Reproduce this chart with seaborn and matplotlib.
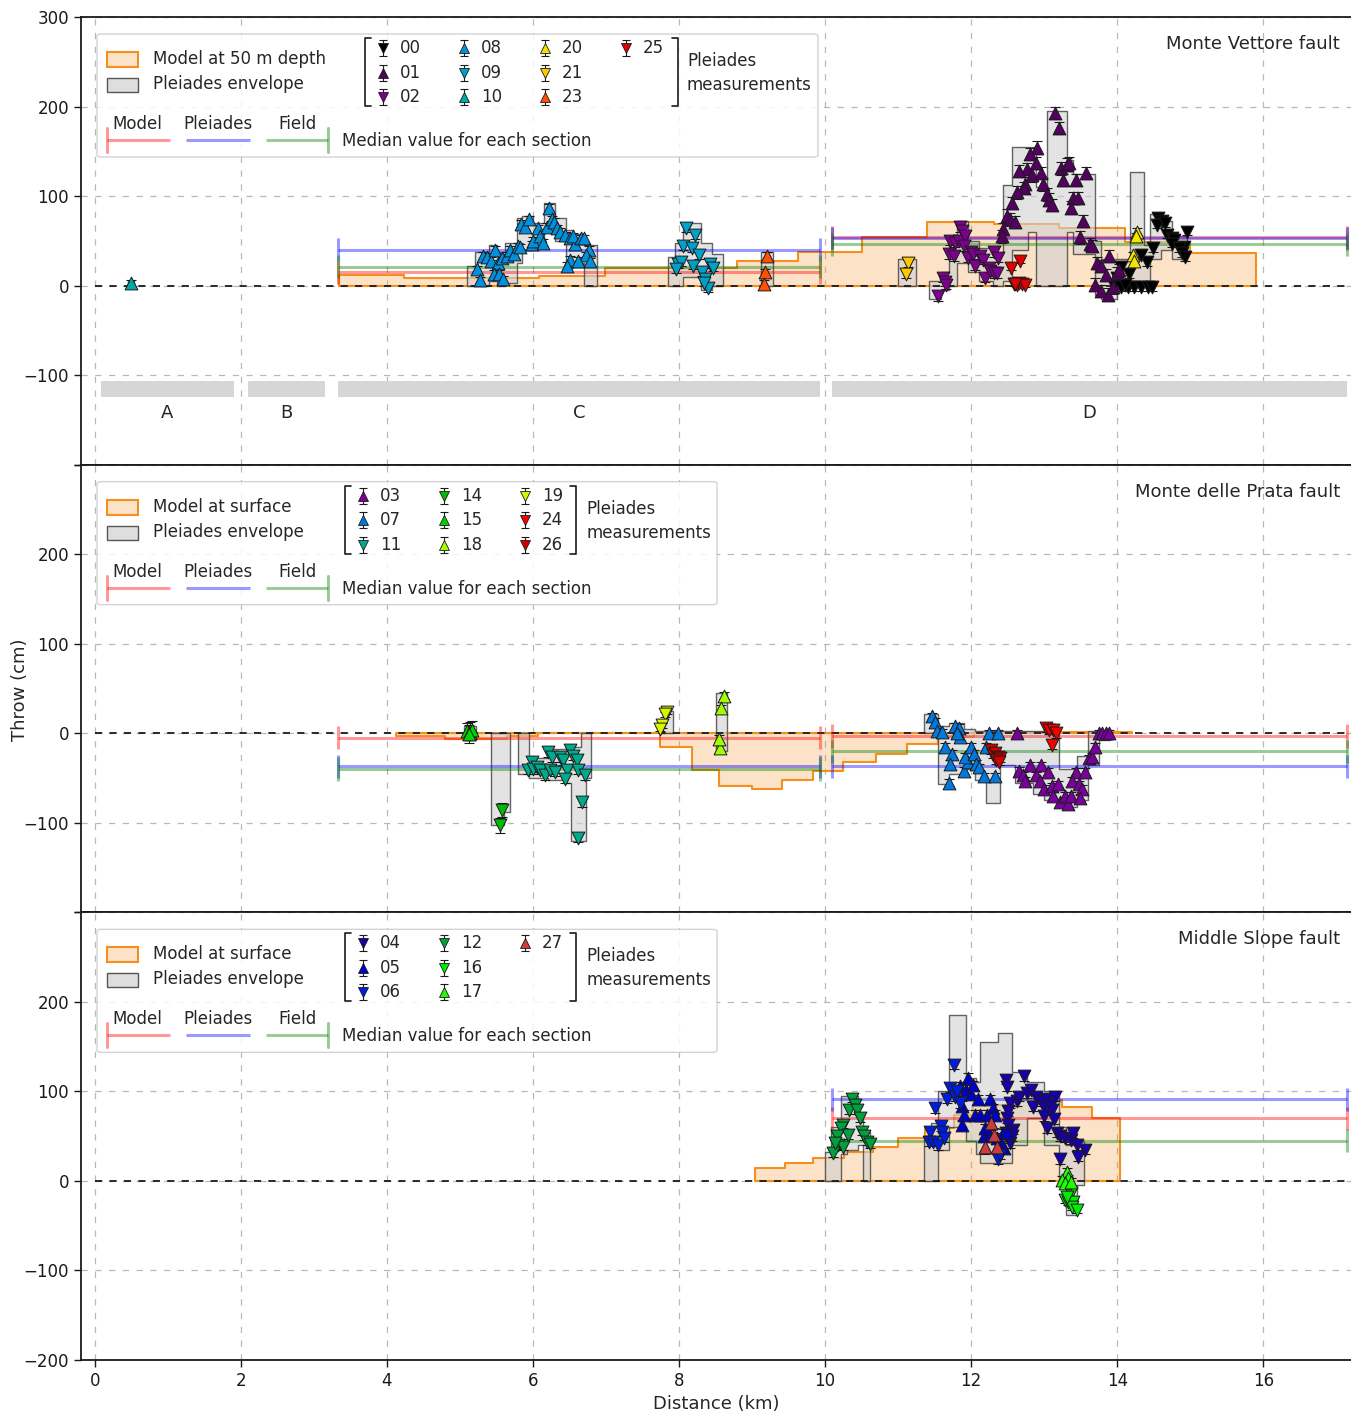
import matplotlib
matplotlib.use("Agg")
import matplotlib.pyplot as plt
from matplotlib.patches import FancyBboxPatch, Rectangle
import seaborn as sns

sns.set_theme(style="ticks")
plt.rcParams["font.family"] = ["DejaVu Sans"]

# ---------------- Along-strike sections ----------------
section_names = ["A", "B", "C", "D"]
section_start = [0.08, 2.10, 3.33, 10.10]
section_end = [1.90, 3.15, 9.93, 17.14]

# ---------------- Monte Vettore fault: Pleiades profiles ----------------
mv00_x = [14.56, 14.61, 14.54, 14.65, 14.68, 14.75, 14.78, 14.75, 14.95, 14.91, 14.84, 14.88, 14.93, 14.49,
          14.40, 14.33, 14.16, 14.05, 14.00, 13.96, 14.05, 14.14, 14.23, 14.33, 14.42, 14.47, 14.10]
mv00_y = [75, 72, 68, 70, 57, 53, 51, 47, 60, 43, 42, 36, 32, 42, 26, 34, 13, 21, 8, 0, -2, -2, -2, -2, -2, -2, 1]
mv01_x = [13.15, 13.20, 12.90, 12.80, 12.88, 12.76, 12.66, 12.83, 12.95, 12.98, 12.74, 12.72, 12.63, 12.56, 13.04,
          13.07, 13.11, 12.49, 12.53, 12.60, 12.44, 12.42, 13.23, 13.31, 13.34, 13.26, 13.43, 13.57, 13.39, 13.46,
          13.37, 13.53, 13.49, 13.63, 13.65, 13.72, 13.78, 13.89, 13.84, 13.70, 13.77, 13.87, 13.94, 13.99, 14.03]
mv01_y = [193, 176, 154, 147, 137, 130, 128, 123, 126, 113, 114, 109, 104, 92, 102, 96, 90, 78, 74, 71, 63, 55,
          131, 135, 137, 118, 118, 126, 98, 98, 87, 72, 54, 46, 44, 25, 22, 33, 12, 1, -6, -10, -2, 14, 17]
mv02_x = [11.55, 11.61, 11.64, 11.66, 11.85, 11.87, 11.71, 11.78, 11.83, 11.92, 11.69, 11.76, 11.90, 11.99,
          11.96, 12.03, 12.05, 12.12, 12.16, 12.19, 12.24, 12.26, 12.31, 12.35, 12.31, 12.37]
mv02_y = [-12, 9, 4, 1, 65, 61, 50, 48, 50, 55, 35, 33, 44, 38, 31, 35, 22, 33, 29, 9, 20, 16, 14, 14, 37, 31]
mv08_x = [5.23, 5.27, 5.32, 5.37, 5.43, 5.48, 5.52, 5.46, 5.54, 5.59, 5.57, 5.64, 5.68, 5.74, 5.80, 5.82, 5.84,
          5.89, 5.94, 5.98, 6.00, 6.07, 6.10, 6.14, 6.19, 6.22, 6.26, 6.29, 6.33, 6.37, 6.44, 6.51, 6.58, 6.55,
          6.65, 6.70, 6.76, 6.73, 6.78, 6.51, 6.47, 6.62]
mv08_y = [18, 6, 33, 32, 28, 40, 25, 13, 13, 7, 31, 33, 40, 35, 44, 43, 69, 66, 74, 46, 50, 64, 55, 48, 66, 87,
          74, 71, 64, 60, 56, 53, 46, 55, 53, 53, 40, 34, 27, 29, 22, 28]
mv09_x = [8.10, 8.22, 8.05, 8.17, 8.27, 7.98, 8.03, 7.96, 8.19, 8.32, 8.42, 8.46, 8.36, 8.39, 8.34]
mv09_y = [64, 56, 44, 42, 34, 24, 26, 18, 22, 15, 24, 20, 7, -3, 3]
mv10_x = [0.50]
mv10_y = [3]
mv20_x = [14.27, 14.26, 14.21, 14.23]
mv20_y = [60, 55, 34, 28]
mv21_x = [11.13, 11.11]
mv21_y = [25, 13]
mv23_x = [9.20, 9.18, 9.16]
mv23_y = [33, 15, 2]
mv25_x = [12.55, 12.67, 12.58, 12.62, 12.66, 12.70, 12.74, 12.60]
mv25_y = [20, 28, 2, 1, 3, 2, 1, 2]

# Pleiades envelope (segment start, end, lower, upper) and model at 50 m depth
mv_env_start = [0.46, 5.10, 5.20, 5.40, 5.50, 5.62, 5.78, 5.85, 6.00, 6.15, 6.30, 6.45, 6.55, 6.70,
                7.85, 7.95, 8.05, 8.30, 8.45, 9.12, 11.00,
                11.42, 11.58, 11.70, 11.80, 11.95, 12.10, 12.30, 12.44, 12.56, 12.78, 12.88, 13.04, 13.31,
                13.40, 13.70, 13.78, 14.00, 14.17, 14.37, 14.45, 14.60, 14.75]
mv_env_end = [0.54, 5.20, 5.40, 5.50, 5.62, 5.78, 5.85, 6.00, 6.15, 6.30, 6.45, 6.55, 6.70, 6.88,
              7.95, 8.05, 8.30, 8.45, 8.60, 9.28, 11.25,
              11.58, 11.70, 11.80, 11.95, 12.10, 12.30, 12.44, 12.56, 12.78, 12.88, 13.04, 13.31, 13.40,
              13.70, 13.78, 14.00, 14.17, 14.37, 14.45, 14.60, 14.75, 14.95]
mv_env_lo = [0, 0, 0, 5, 0, 3, 25, 40, 42, 60, 50, 20, 25, 0,
             0, 0, 10, -5, 0, 0, 0,
             -15, -5, 0, 25, 15, 5, 0, 5, 40, 60, 0, 0, 60, 35, -10, -15, -3, 0, 0, 30, 40, 30]
mv_env_hi = [5, 22, 38, 45, 38, 48, 75, 78, 70, 92, 75, 62, 58, 45,
             32, 48, 70, 48, 35, 38, 30,
             5, 15, 52, 72, 50, 42, 35, 112, 155, 155, 110, 195, 140, 125, 50, 30, 30, 127, 45, 80, 72, 55]
mv_model_edges = [3.34, 4.23, 6.08, 6.99, 8.79, 9.63, 10.50, 11.40, 12.31, 13.20, 14.10, 15.00, 15.90]
mv_model_vals = [12, 8, 11, 20, 27, 37, 54, 71, 69, 64, 49, 36]
mv_med_model = [None, None, 15, 54]
mv_med_pleiades = [None, None, 40, 53]
mv_med_field = [None, None, 21, 46]

# ---------------- Monte delle Prata fault ----------------
mp03_x = [12.62, 12.66, 12.71, 12.73, 12.80, 12.89, 12.94, 12.99, 12.96, 13.05, 13.10, 13.12, 13.19, 13.21,
          13.29, 13.33, 13.36, 13.43, 13.38, 13.47, 13.52, 13.49, 13.56, 13.61, 13.66, 13.70, 13.75, 13.79,
          13.84, 13.89]
mp03_y = [0, -42, -47, -53, -36, -47, -53, -62, -36, -43, -59, -70, -57, -77, -70, -79, -70, -43, -53, -57,
          -62, -72, -43, -28, -26, -15, 0, 0, 0, 0]
mp07_x = [11.46, 11.50, 11.53, 11.60, 11.64, 11.74, 11.71, 11.69, 11.78, 11.83, 11.85, 11.81, 11.90, 11.95,
          11.92, 11.99, 12.04, 12.06, 12.11, 12.18, 12.32, 12.20, 12.25, 12.36]
mp07_y = [19, 13, 2, 1, -15, -23, -34, -55, 8, 6, -4, 0, -42, -32, -26, -15, -23, -34, -38, -48, -48, -15, 0, 0]
mp11_x = [5.98, 5.93, 6.00, 6.05, 6.10, 6.16, 6.21, 6.26, 6.23, 6.30, 6.37, 6.41, 6.46, 6.44, 6.51, 6.55,
          6.60, 6.62, 6.71, 6.67, 6.62]
mp11_y = [-32, -41, -40, -38, -41, -47, -21, -27, -41, -43, -27, -30, -41, -51, -19, -25, -30, -41, -47, -77, -117]
mp14_x = [5.57, 5.55]
mp14_y = [-86, -103]
mp15_x = [5.09, 5.14, 5.17, 5.12]
mp15_y = [2, 3, 4, -1]
mp18_x = [8.61, 8.58, 8.56, 8.54]
mp18_y = [42, 28, -17, -6]
mp19_x = [7.83, 7.81, 7.76, 7.74]
mp19_y = [24, 21, 9, 5]
mp24_x = [13.03, 13.07, 13.12, 13.16, 13.10]
mp24_y = [6, 4, 4, 0, -13]
mp26_x = [12.27, 12.30, 12.33, 12.36, 12.40, 12.34, 12.38]
mp26_y = [-19, -24, -22, -26, -28, -30, -32]

mp_env_start = [5.05, 5.42, 5.60, 5.80, 5.95, 6.20, 6.45, 6.52, 6.66, 6.72, 7.72, 7.80, 8.50,
                11.35, 11.55, 11.70, 11.90, 12.05, 12.20, 12.40, 12.60, 12.85, 13.00, 13.20, 13.45, 13.60, 13.75]
mp_env_end = [5.22, 5.60, 5.68, 5.95, 6.20, 6.45, 6.52, 6.66, 6.72, 6.80, 7.80, 7.92, 8.65,
              11.55, 11.70, 11.90, 12.05, 12.20, 12.40, 12.60, 12.85, 13.00, 13.20, 13.45, 13.60, 13.75, 13.90]
mp_env_lo = [-8, -103, -88, -45, -50, -52, -55, -120, -120, -50, 0, 0, -20,
             0, -57, -45, -40, -52, -78, -35, -55, -68, -75, -82, -75, -35, -8]
mp_env_hi = [8, 0, 0, 0, -28, -18, -15, -15, 0, 0, 10, 25, 45,
             22, 8, 12, 5, 2, 2, 2, 2, 2, 6, -40, -25, 2, 2]
mp_model_edges = [4.13, 4.79, 5.64, 6.07, 7.74, 8.17, 8.55, 9.00, 9.41, 9.84, 10.25, 10.69, 11.12, 11.55,
                  12.04, 14.20]
mp_model_vals = [-3.4, -6.7, -2.6, 0.5, -15, -41, -59, -62, -52, -42, -32, -23, -12.5, -4, 1]
mp_med_model = [None, None, -5, -3]
mp_med_pleiades = [None, None, -37, -37]
mp_med_field = [None, None, -40, -20]

# ---------------- Middle Slope fault ----------------
ms04_x = [12.47, 12.49, 12.72, 12.62, 12.66, 12.53, 12.51, 12.49, 12.51, 12.57, 12.53, 12.47, 12.56, 12.76,
          12.82, 12.88, 12.85, 12.95, 12.99, 13.04, 13.08, 13.15, 13.10, 12.99, 13.13, 13.04, 13.17, 13.22,
          13.29, 13.36, 13.40, 13.45, 13.56, 13.22, 13.46]
ms04_y = [113, 105, 117, 89, 94, 87, 78, 70, 63, 57, 42, 53, 50, 98, 102, 94, 83, 89, 83, 91, 85, 94, 79, 72,
          69, 59, 54, 50, 48, 46, 53, 40, 35, 24, 27]
ms05_x = [11.95, 11.84, 11.93, 11.99, 12.03, 12.09, 11.87, 11.90, 11.87, 12.05, 12.12, 12.21, 12.26, 12.30,
          12.33, 12.17, 12.24, 12.19, 12.35, 12.42, 12.43, 12.49, 12.45]
ms05_y = [115, 106, 102, 97, 107, 91, 84, 74, 63, 74, 74, 74, 91, 81, 74, 50, 53, 59, 48, 40, 53, 55, 37]
ms06_x = [11.76, 11.51, 11.44, 11.42, 11.47, 11.54, 11.58, 11.60, 11.63, 11.67, 11.71, 11.78, 11.81, 11.85,
          12.37, 12.40]
ms06_y = [130, 81, 55, 44, 44, 40, 61, 55, 48, 92, 104, 94, 100, 87, 24, 29]
ms12_x = [10.37, 10.41, 10.32, 10.43, 10.47, 10.24, 10.21, 10.31, 10.16, 10.18, 10.25, 10.11, 10.50, 10.53,
          10.57, 10.61, 10.14]
ms12_y = [92, 85, 79, 79, 70, 63, 59, 51, 50, 40, 38, 31, 55, 50, 44, 41, 42]
ms16_x = [13.36, 13.29, 13.33, 13.40, 13.38, 13.45, 13.31]
ms16_y = [-14, -21, -23, -23, -29, -32, -18]
ms17_x = [13.31, 13.33, 13.24, 13.29, 13.36]
ms17_y = [10, 3, 1, -2, -1]
ms27_x = [12.27, 12.31, 12.19, 12.35]
ms27_y = [65, 51, 38, 38]

ms_env_start = [10.00, 10.08, 10.22, 10.30, 10.45, 10.52,
                11.35, 11.45, 11.55, 11.70, 11.93, 12.06, 12.12, 12.36, 12.56, 12.76, 13.00, 13.20, 13.30, 13.45]
ms_env_end = [10.08, 10.22, 10.30, 10.45, 10.52, 10.62,
              11.45, 11.55, 11.70, 11.93, 12.06, 12.12, 12.36, 12.56, 12.76, 13.00, 13.20, 13.30, 13.45, 13.55]
ms_env_lo = [0, 0, 30, 35, 40, 0, 0, 0, 35, 60, 45, 30, 20, 20, 40, 70, 40, 0, -38, -5]
ms_env_hi = [32, 60, 95, 95, 75, 55, 50, 65, 100, 185, 115, 110, 155, 165, 122, 110, 100, 60, 40, 45]
ms_model_edges = [9.04, 9.45, 9.84, 10.26, 10.66, 11.00, 11.37, 11.76, 12.03, 12.49, 13.24, 13.65, 14.04]
ms_model_vals = [14, 20, 26, 32, 38, 48, 59, 74, 85, 90, 83, 70]
ms_med_model = [None, None, None, 70]
ms_med_pleiades = [None, None, None, 91]
ms_med_field = [None, None, None, 45]

# marker shape per profile (up: east side up, down: west side up)
series_marker = {"00": "v", "01": "^", "02": "v", "03": "^", "04": "v", "05": "^", "06": "v", "07": "^",
                 "08": "^", "09": "v", "10": "^", "11": "v", "12": "v", "14": "v", "15": "^", "16": "v",
                 "17": "^", "18": "^", "19": "v", "20": "^", "21": "v", "23": "^", "24": "v", "25": "v",
                 "26": "v", "27": "^"}
cmap = plt.get_cmap("nipy_spectral")


def series_color(sid):
    return cmap(int(sid) / 28.0)


panels = [
    dict(title="Monte Vettore fault", model_label="Model at 50 m depth",
         series=[("00", mv00_x, mv00_y, 4), ("01", mv01_x, mv01_y, 7), ("02", mv02_x, mv02_y, 5),
                 ("08", mv08_x, mv08_y, 4), ("09", mv09_x, mv09_y, 4), ("10", mv10_x, mv10_y, 3),
                 ("20", mv20_x, mv20_y, 4), ("21", mv21_x, mv21_y, 4), ("23", mv23_x, mv23_y, 4),
                 ("25", mv25_x, mv25_y, 3)],
         env=(mv_env_start, mv_env_end, mv_env_lo, mv_env_hi),
         model=(mv_model_edges, mv_model_vals),
         med=(mv_med_model, mv_med_pleiades, mv_med_field),
         key=["00", "01", "02", "08", "09", "10", "20", "21", "23", "25"],
         bracket=(365, 678), meas_x=687, box_right=818, sections=True),
    dict(title="Monte delle Prata fault", model_label="Model at surface",
         series=[("03", mp03_x, mp03_y, 4), ("07", mp07_x, mp07_y, 4), ("11", mp11_x, mp11_y, 5),
                 ("14", mp14_x, mp14_y, 8), ("15", mp15_x, mp15_y, 10), ("18", mp18_x, mp18_y, 4),
                 ("19", mp19_x, mp19_y, 3), ("24", mp24_x, mp24_y, 5), ("26", mp26_x, mp26_y, 4)],
         env=(mp_env_start, mp_env_end, mp_env_lo, mp_env_hi),
         model=(mp_model_edges, mp_model_vals),
         med=(mp_med_model, mp_med_pleiades, mp_med_field),
         key=["03", "07", "11", "14", "15", "18", "19", "24", "26"],
         bracket=(345, 576), meas_x=586, box_right=717, sections=False),
    dict(title="Middle Slope fault", model_label="Model at surface",
         series=[("04", ms04_x, ms04_y, 5), ("05", ms05_x, ms05_y, 5), ("06", ms06_x, ms06_y, 5),
                 ("12", ms12_x, ms12_y, 4), ("16", ms16_x, ms16_y, 4), ("17", ms17_x, ms17_y, 4),
                 ("27", ms27_x, ms27_y, 8)],
         env=(ms_env_start, ms_env_end, ms_env_lo, ms_env_hi),
         model=(ms_model_edges, ms_model_vals),
         med=(ms_med_model, ms_med_pleiades, ms_med_field),
         key=["04", "05", "06", "12", "16", "17", "27"],
         bracket=(345, 576), meas_x=586, box_right=717, sections=False),
]

ORANGE = "#f5901e"
ORANGE_FILL = (0.96, 0.56, 0.12, 0.25)
MED_COLORS = ["#ff0000", "#0000ff", "#008000"]

# ---------------- figure geometry (pixels) ----------------
FIG_W, FIG_H = 1351, 1412
AX_L, AX_R, AX_T, AX_B = 81, 1351, 17, 1360
PANEL_H = (AX_B - AX_T) / 3.0
AX_W = AX_R - AX_L

fig = plt.figure(figsize=(FIG_W / 100, FIG_H / 100), dpi=100)


def fill_runs(ax, start, end, lo, hi, **kw):
    runs = []
    for s, e, l, h in zip(start, end, lo, hi):
        if runs and abs(s - runs[-1][0][-1]) < 1e-9:
            runs[-1][0].append(e)
            runs[-1][1].append(l)
            runs[-1][2].append(h)
        else:
            runs.append([[s, e], [l], [h]])
    for xs, ls, hs in runs:
        ax.fill_between(xs, ls + [ls[-1]], hs + [hs[-1]], step="post", **kw)


def draw_key(ax, p):
    T = ax.transAxes

    def fx(px):
        return (px - AX_L) / AX_W

    def fy(off):
        return 1 - off / PANEL_H

    z = 20
    ax.add_patch(FancyBboxPatch((fx(97), fy(140)), fx(p["box_right"]) - fx(97), fy(17) - fy(140),
                                boxstyle="round,pad=0,rounding_size=0.004", transform=T,
                                facecolor="white", edgecolor="#cccccc", alpha=0.85, lw=1, zorder=z))
    ax.add_patch(Rectangle((fx(107), fy(50)), fx(138) - fx(107), fy(35) - fy(50), transform=T,
                           facecolor=ORANGE_FILL, edgecolor=ORANGE, lw=1.5, zorder=z + 1))
    ax.text(fx(153), fy(42), p["model_label"], transform=T, fontsize=12, va="center", zorder=z + 1)
    ax.add_patch(Rectangle((fx(107), fy(75)), fx(138) - fx(107), fy(61) - fy(75), transform=T,
                           facecolor="#dedede", edgecolor="#555555", lw=1, zorder=z + 1))
    ax.text(fx(153), fy(67), "Pleiades envelope", transform=T, fontsize=12, va="center", zorder=z + 1)

    bl, br = p["bracket"]
    ax.plot([fx(bl + 6), fx(bl), fx(bl), fx(bl + 6)], [fy(21), fy(21), fy(89), fy(89)],
            transform=T, color="k", lw=1.2, zorder=z + 1)
    ax.plot([fx(br - 6), fx(br), fx(br), fx(br - 6)], [fy(21), fy(21), fy(89), fy(89)],
            transform=T, color="k", lw=1.2, zorder=z + 1)
    for i, sid in enumerate(p["key"]):
        col, row = divmod(i, 3)
        mx = bl + 18 + 81 * col
        off = 31 + 24.5 * row
        xa, ya = fx(mx), fy(off)
        dy = 8 / PANEL_H
        ax.plot([xa, xa], [ya - dy, ya + dy], transform=T, color="k", lw=0.8, zorder=z + 1)
        ax.plot([xa, xa], [ya - dy, ya + dy], transform=T, ls="none", marker="_", ms=6, mew=0.8,
                color="k", zorder=z + 1)
        ax.plot([xa], [ya], transform=T, ls="none", marker=series_marker[sid], ms=7.5,
                mfc=series_color(sid), mec="k", mew=0.6, zorder=z + 2)
        ax.text(fx(mx + 17), ya, sid, transform=T, fontsize=12, va="center", zorder=z + 1)
    ax.text(fx(p["meas_x"]), fy(56), "Pleiades\nmeasurements", transform=T, fontsize=12,
            va="center", ha="left", linespacing=1.45, zorder=z + 1)

    for (x0, x1, cx, lab), c in zip([(107, 170, 137, "Model"), (186, 250, 218, "Pleiades"),
                                     (266, 328, 298, "Field")], MED_COLORS):
        ax.plot([fx(x0), fx(x1)], [fy(123), fy(123)], transform=T, color=c, alpha=0.4, lw=2.2,
                solid_capstyle="butt", zorder=z + 1)
        ax.text(fx(cx), fy(107), lab, transform=T, fontsize=12, ha="center", va="center", zorder=z + 1)
    ax.plot([fx(107), fx(107)], [fy(111), fy(135)], transform=T, color=MED_COLORS[0], alpha=0.4,
            lw=2.2, zorder=z + 1)
    ax.plot([fx(328), fx(328)], [fy(111), fy(135)], transform=T, color=MED_COLORS[2], alpha=0.4,
            lw=2.2, zorder=z + 1)
    ax.text(fx(342), fy(124), "Median value for each section", transform=T, fontsize=12,
            va="center", zorder=z + 1)
    ax.text(fx(1340), fy(27), p["title"], transform=T, fontsize=13, ha="right", va="center",
            zorder=z + 1)


axes = []
for k, p in enumerate(panels):
    top_px = AX_T + k * PANEL_H
    ax = fig.add_axes([AX_L / FIG_W, 1 - (top_px + PANEL_H) / FIG_H, AX_W / FIG_W, PANEL_H / FIG_H])
    axes.append(ax)
    ax.set_xlim(-0.19, 17.2)
    ax.set_ylim(-200, 300)
    ax.set_xticks(range(0, 17, 2))
    ax.set_yticks([-200, -100, 0, 100, 200, 300])
    ax.grid(True, linestyle=(0, (5, 6)), color="#b8b8b8", lw=0.9, zorder=0)
    ax.set_axisbelow(True)
    for side in ("left", "bottom", "top"):
        ax.spines[side].set_color("k")
        ax.spines[side].set_linewidth(1.3)
    ax.spines["right"].set_visible(False)
    ax.tick_params(axis="y", labelsize=12, length=5, width=1, colors="k", direction="out")

    # Pleiades envelope
    es, ee, el, eh = p["env"]
    fill_runs(ax, es, ee, el, eh, facecolor=(0.82, 0.82, 0.82, 0.6), edgecolor="none", zorder=2)
    fill_runs(ax, es, ee, el, eh, facecolor="none", edgecolor=(0.25, 0.25, 0.25, 0.8), lw=1, zorder=2.1)

    # modelled throw
    me, mvals = p["model"]
    ax.fill_between(me, 0, list(mvals) + [mvals[-1]], step="post", facecolor=ORANGE_FILL,
                    edgecolor=ORANGE, lw=1.5, zorder=1.5)

    ax.plot([0, 17.2], [0, 0], color="k", ls=(0, (4, 4)), lw=1.3, zorder=2.5)

    # section medians
    for i, (s, e) in enumerate(zip(section_start, section_end)):
        for vals, c in zip(p["med"], MED_COLORS):
            v = vals[i]
            if v is None:
                continue
            ax.plot([s, e], [v, v], color=c, alpha=0.4, lw=2.2, solid_capstyle="butt", zorder=3)
            ax.vlines([s, e], v - 13, v + 13, color=c, alpha=0.4, lw=2.2, zorder=3)

    # measurements
    for sid, xs, ys, err in p["series"]:
        ax.errorbar(xs, ys, yerr=err, fmt="none", ecolor="k", elinewidth=0.8, capsize=3.5,
                    capthick=0.8, zorder=4)
        sns.scatterplot(x=xs, y=ys, marker=series_marker[sid], color=series_color(sid), s=85,
                        edgecolor="k", linewidth=0.7, ax=ax, zorder=5, legend=False)

    if p["sections"]:
        ax.broken_barh([(s, e - s) for s, e in zip(section_start, section_end)], (-124, 18),
                       facecolors="#d6d6d6", edgecolor="none", zorder=2)
        for name, s, e in zip(section_names, section_start, section_end):
            ax.text((s + e) / 2, -142, name, fontsize=13, ha="center", va="center")

    draw_key(ax, p)

    labels = ["\u2212200", "\u2212100", "0", "100", "200", "300"]
    if k == 0:
        labels[0] = ""
    elif k == 1:
        labels[0] = ""
        labels[-1] = ""
    else:
        labels[-1] = ""
    ax.set_yticklabels(labels)

    if k < 2:
        ax.tick_params(axis="x", length=0, labelbottom=False)
    else:
        ax.tick_params(axis="x", labelsize=12, length=5, width=1, colors="k")
        ax.set_xlabel("Distance (km)", fontsize=13, labelpad=4)

fig.text(20 / FIG_W, 1 - 690 / FIG_H, "Throw (cm)", rotation=90, fontsize=13, ha="center", va="center")

fig.savefig("out.png", dpi=100)
